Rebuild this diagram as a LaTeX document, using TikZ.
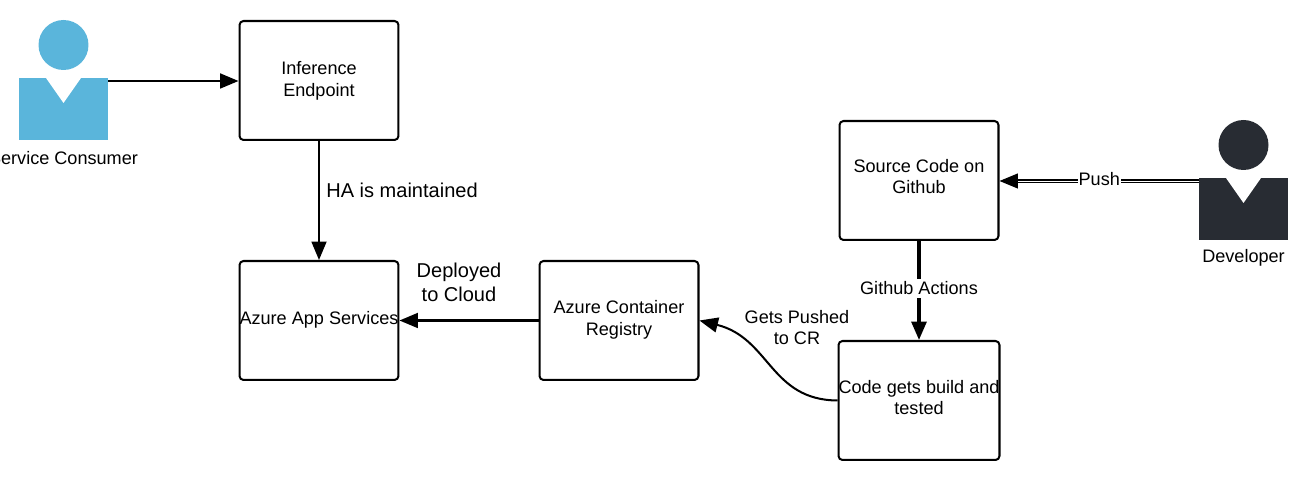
\documentclass[tikz,border=0pt]{standalone}
\usepackage{fontspec}
\setmainfont{Liberation Sans}
\usetikzlibrary{arrows.meta}
\definecolor{consumerblue}{HTML}{5AB5DB}
\definecolor{developerdark}{HTML}{282C33}
\begin{document}
\begin{tikzpicture}
        [x=0.02cm, y=-0.02cm,
        box/.style={rectangle,draw,rounded corners=0.08cm,line width=1.15pt,minimum width=3.18cm,minimum height=2.38cm,align=center,font=\fontsize{10.3}{12.4}\selectfont,inner sep=0pt},
        label/.style={align=center,font=\fontsize{10.3}{12.4}\selectfont},
        biglabel/.style={align=center,font=\fontsize{11.4}{13.6}\selectfont},
        body/.style={rectangle,minimum width=1.78cm,minimum height=1.24cm,inner sep=0pt},
        head/.style={circle,minimum size=1cm,inner sep=0pt},
        edge/.style={line width=1.15pt,-{Triangle[length=10.5pt,width=8.5pt]}}]

        \useasboundingbox (0,0) rectangle (1309,482);

        % boxes
        \node[box] (endpoint) at (319,80.5) {Inference\\Endpoint};
        \node[box,text depth=3.3pt] (appservice) at (319,320.5) {Azure App Services};
        \node[box,text depth=3.3pt] (registry) at (619,320.5) {Azure Container\\Registry};
        \node[box,text depth=4.5pt] (source) at (919,180.5) {Source Code on\\Github};
        \node[box,text depth=3.4pt] (build) at (919,400.5) {Code gets build and\\tested};

        % service consumer
        \node[head,fill=consumerblue] (consumerhead) at (63.5,45) {};
        \node[body,fill=consumerblue] (consumer) at (63.5,109) {};
        \fill[white] (46,78) -- (63.5,103) -- (81,78) -- cycle;
        \node[label] (consumerlabel) at (63.5,158) {Service Consumer};
        \coordinate (consumerout) at (108,81);

        % developer
        \node[head,fill=developerdark] (developerhead) at (1243.5,145) {};
        \node[body,fill=developerdark] (developer) at (1243.5,209) {};
        \fill[white] (1226,178) -- (1243.5,203) -- (1261,178) -- cycle;
        \node[label] (developerlabel) at (1243.5,258) {Developer};
        \coordinate (developerout) at (1199,181);

        % connectors
        \draw[edge] (consumerout) -- (endpoint.west |- consumerout);
        \draw[edge] (endpoint) -- (appservice);
        \draw[edge] (registry) -- (appservice);
        \draw[edge,line width=1.9pt] (source) -- (build)
            node[pos=0.48,label,fill=white,inner sep=1.5pt] (actionslabel) {Github Actions};
        \draw[edge] (build.west) .. controls (770,400) and (770,338) .. (registry.east);
        \draw[edge,double,double distance=0.45pt,line width=0.75pt] (developerout) -- (source.east |- developerout)
            node[midway,label,fill=white,inner sep=0.5pt,yshift=1pt] (pushlabel) {Push};

        % labels
        \node[biglabel] (halabel) at (402,190) {HA is maintained};
        \node[biglabel] (deploylabel) at (459,282) {Deployed\\to Cloud};
        \node[label] (crlabel) at (797,327.5) {Gets Pushed\\to CR};

\end{tikzpicture}
\end{document}
